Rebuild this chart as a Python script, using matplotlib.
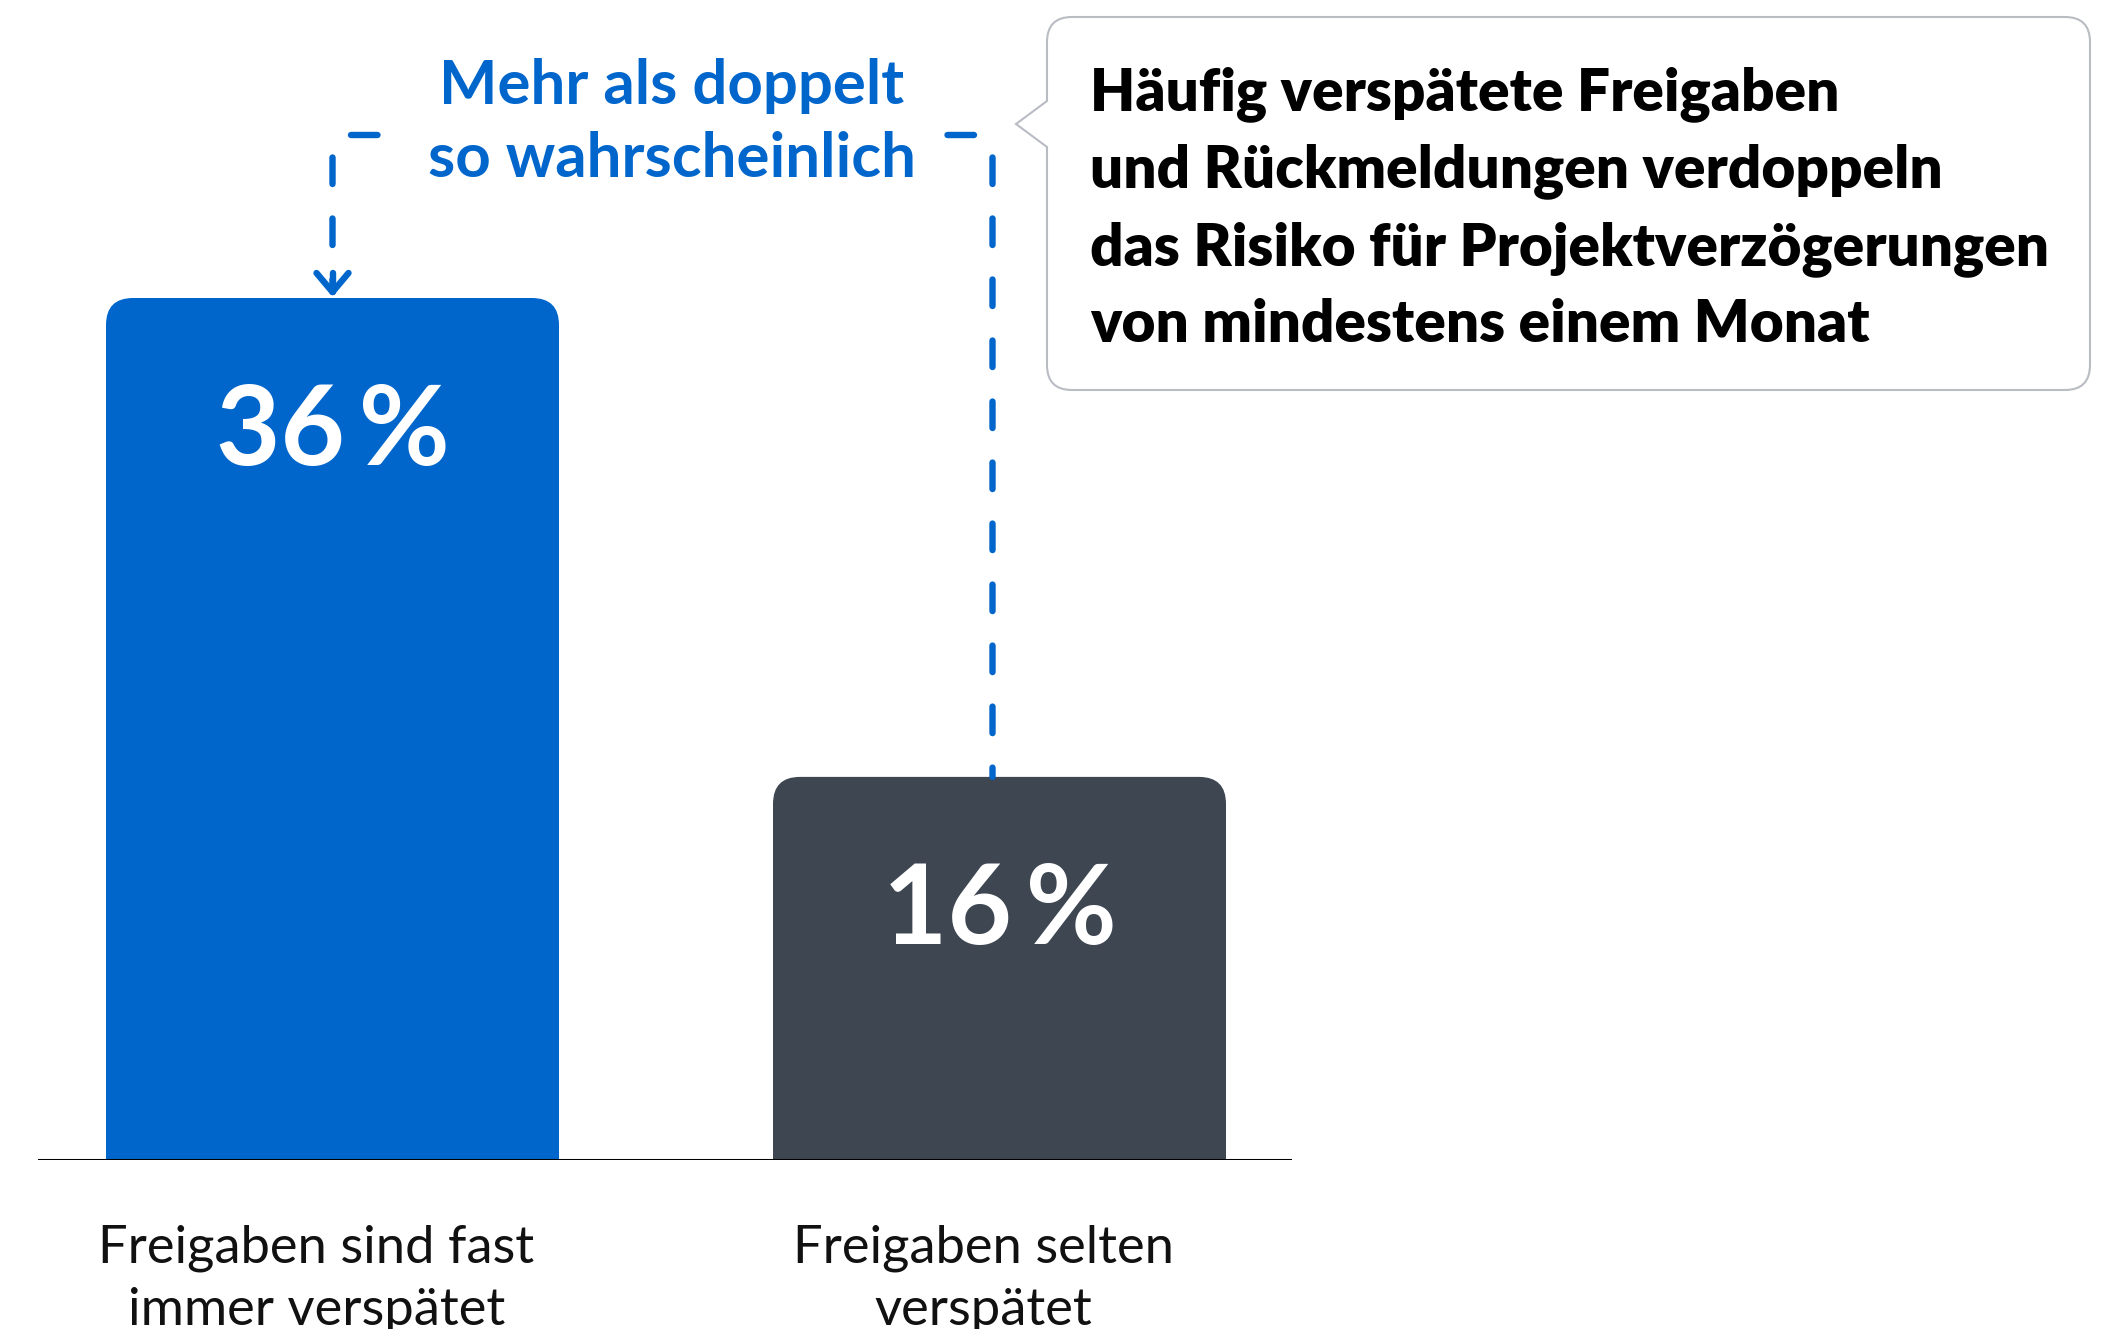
import numpy as np
import matplotlib
matplotlib.use("Agg")
import matplotlib.pyplot as plt
from matplotlib.patches import FancyBboxPatch, PathPatch
from matplotlib.path import Path
from matplotlib.transforms import Affine2D

plt.rcParams['font.family'] = ['Lato', 'DejaVu Sans']

# data
categories = ["Freigaben sind fast\nimmer verspätet", "Freigaben selten\nverspätet"]
values = [36, 16]
value_labels = ["36\u2009%", "16\u2009%"]
bar_colors = ["#0066CC", "#3D4651"]
blue_note = ["Mehr als doppelt", "so wahrscheinlich"]
callout_lines = ["Häufig verspätete Freigaben",
                 "und Rückmeldungen verdoppeln",
                 "das Risiko für Projektverzögerungen",
                 "von mindestens einem Monat"]

W, H = 2115, 1329
fig = plt.figure(figsize=(W / 100, H / 100), dpi=100)
# pixel coords, origin top-left
px = Affine2D().scale(1 / W, -1 / H).translate(0, 1) + fig.transFigure

ax_left, ax_right, ax_base = 38, 1292, 1160
ax = fig.add_axes([ax_left / W, (H - ax_base) / H, (ax_right - ax_left) / W, ax_base / H])
x = np.arange(len(values))
unit_x = 667.0            # px per category step
unit_y = 862.0 / 36       # px per percent
ax.set_xlim(-(332.5 - ax_left) / unit_x, 1 + (ax_right - 999.5) / unit_x)
ax.set_ylim(0, ax_base / unit_y)
ax.axis("off")

bar_w = 453 / unit_x
r_px = 27
aspect = unit_x / unit_y
for xi, v, c in zip(x, values, bar_colors):
    ax.bar(xi, v / 2, width=bar_w, color=c, zorder=2)
    ax.add_patch(FancyBboxPatch((xi - bar_w / 2, 0), bar_w, v,
                                boxstyle=f"round,pad=0,rounding_size={r_px / unit_x}",
                                mutation_aspect=aspect, fc=c, ec="none", zorder=2))
ax.axhline(0, color="black", lw=2.2, zorder=3)


def to_px(xd, yd):
    dx, dy = ax.transData.transform((xd, yd))
    return dx, H - dy


# value labels inside bars
for xi, v, lab in zip(x, values, value_labels):
    bx, by = to_px(xi, v)
    fig.text(bx, by + 167, lab, transform=px, ha="center", va="baseline",
             color="white", fontsize=80, fontweight="bold")

# category labels
for xi, cat in zip(x, categories):
    bx, _ = to_px(xi, 0)
    for k, line in enumerate(cat.split("\n")):
        fig.text(bx - 16, 1262 + 63 * k, line, transform=px, ha="center",
                 va="baseline", color="#111111", fontsize=37.8)

# blue note
for k, line in enumerate(blue_note):
    fig.text(672, 104 + 73 * k, line, transform=px, ha="center", va="baseline",
             color="#0066CC", fontsize=44.5, fontweight="bold")

# dashed bracket
y_top, rad = 135, 15
lx, ltop = to_px(x[0], values[0])
rx, rtop = to_px(x[1], values[1])
rx -= 7
th = np.linspace(0, np.pi / 2, 12)
left_arc_x = (lx + rad) - rad * np.sin(th)
left_arc_y = (y_top + rad) - rad * np.cos(th)
lxs = np.concatenate([[lx + 45], left_arc_x, [lx]])
lys = np.concatenate([[y_top], left_arc_y, [ltop - 6]])
right_arc_x = (rx - rad) + rad * np.sin(th)
right_arc_y = (y_top + rad) - rad * np.cos(th)
rxs = np.concatenate([[rx - 45], right_arc_x, [rx]])
rys = np.concatenate([[y_top], right_arc_y, [rtop]])
dash = dict(color="#0066CC", lw=4.6, ls=(0, (4.15, 5.4)), dash_capstyle="round",
            transform=px, clip_on=False)
fig.add_artist(plt.Line2D(lxs, lys, **dash))
fig.add_artist(plt.Line2D(rxs, rys, **dash))
tip = ltop - 6
fig.add_artist(plt.Line2D([lx - 16, lx, lx + 16], [tip - 19, tip, tip - 19],
                          color="#0066CC", lw=4.6, solid_capstyle="round",
                          solid_joinstyle="round", transform=px))
fig.add_artist(plt.Line2D([lx, lx], [tip - 19, tip], color="#0066CC", lw=4.6,
                          solid_capstyle="round", transform=px))

# callout box
L, T, R, B, cr = 1047, 17, 2090, 390, 25
verts = [(L + cr, T), (R - cr, T), (R, T), (R, T + cr), (R, B - cr), (R, B), (R - cr, B),
         (L + cr, B), (L, B), (L, B - cr), (L, 147), (1016, 124), (L, 101), (L, T + cr),
         (L, T), (L + cr, T), (L + cr, T)]
codes = [Path.MOVETO, Path.LINETO, Path.CURVE3, Path.CURVE3, Path.LINETO, Path.CURVE3,
         Path.CURVE3, Path.LINETO, Path.CURVE3, Path.CURVE3, Path.LINETO, Path.LINETO,
         Path.LINETO, Path.LINETO, Path.CURVE3, Path.CURVE3, Path.CLOSEPOLY]
fig.add_artist(PathPatch(Path(verts, codes), transform=px, fc="white",
                         ec="#B9BDC3", lw=1.5))
for k, line in enumerate(callout_lines):
    fig.text(1090, 110 + 77.5 * k, line, transform=px, ha="left", va="baseline",
             color="black", fontsize=42, fontweight="heavy")

fig.savefig("out.png", dpi=100)
